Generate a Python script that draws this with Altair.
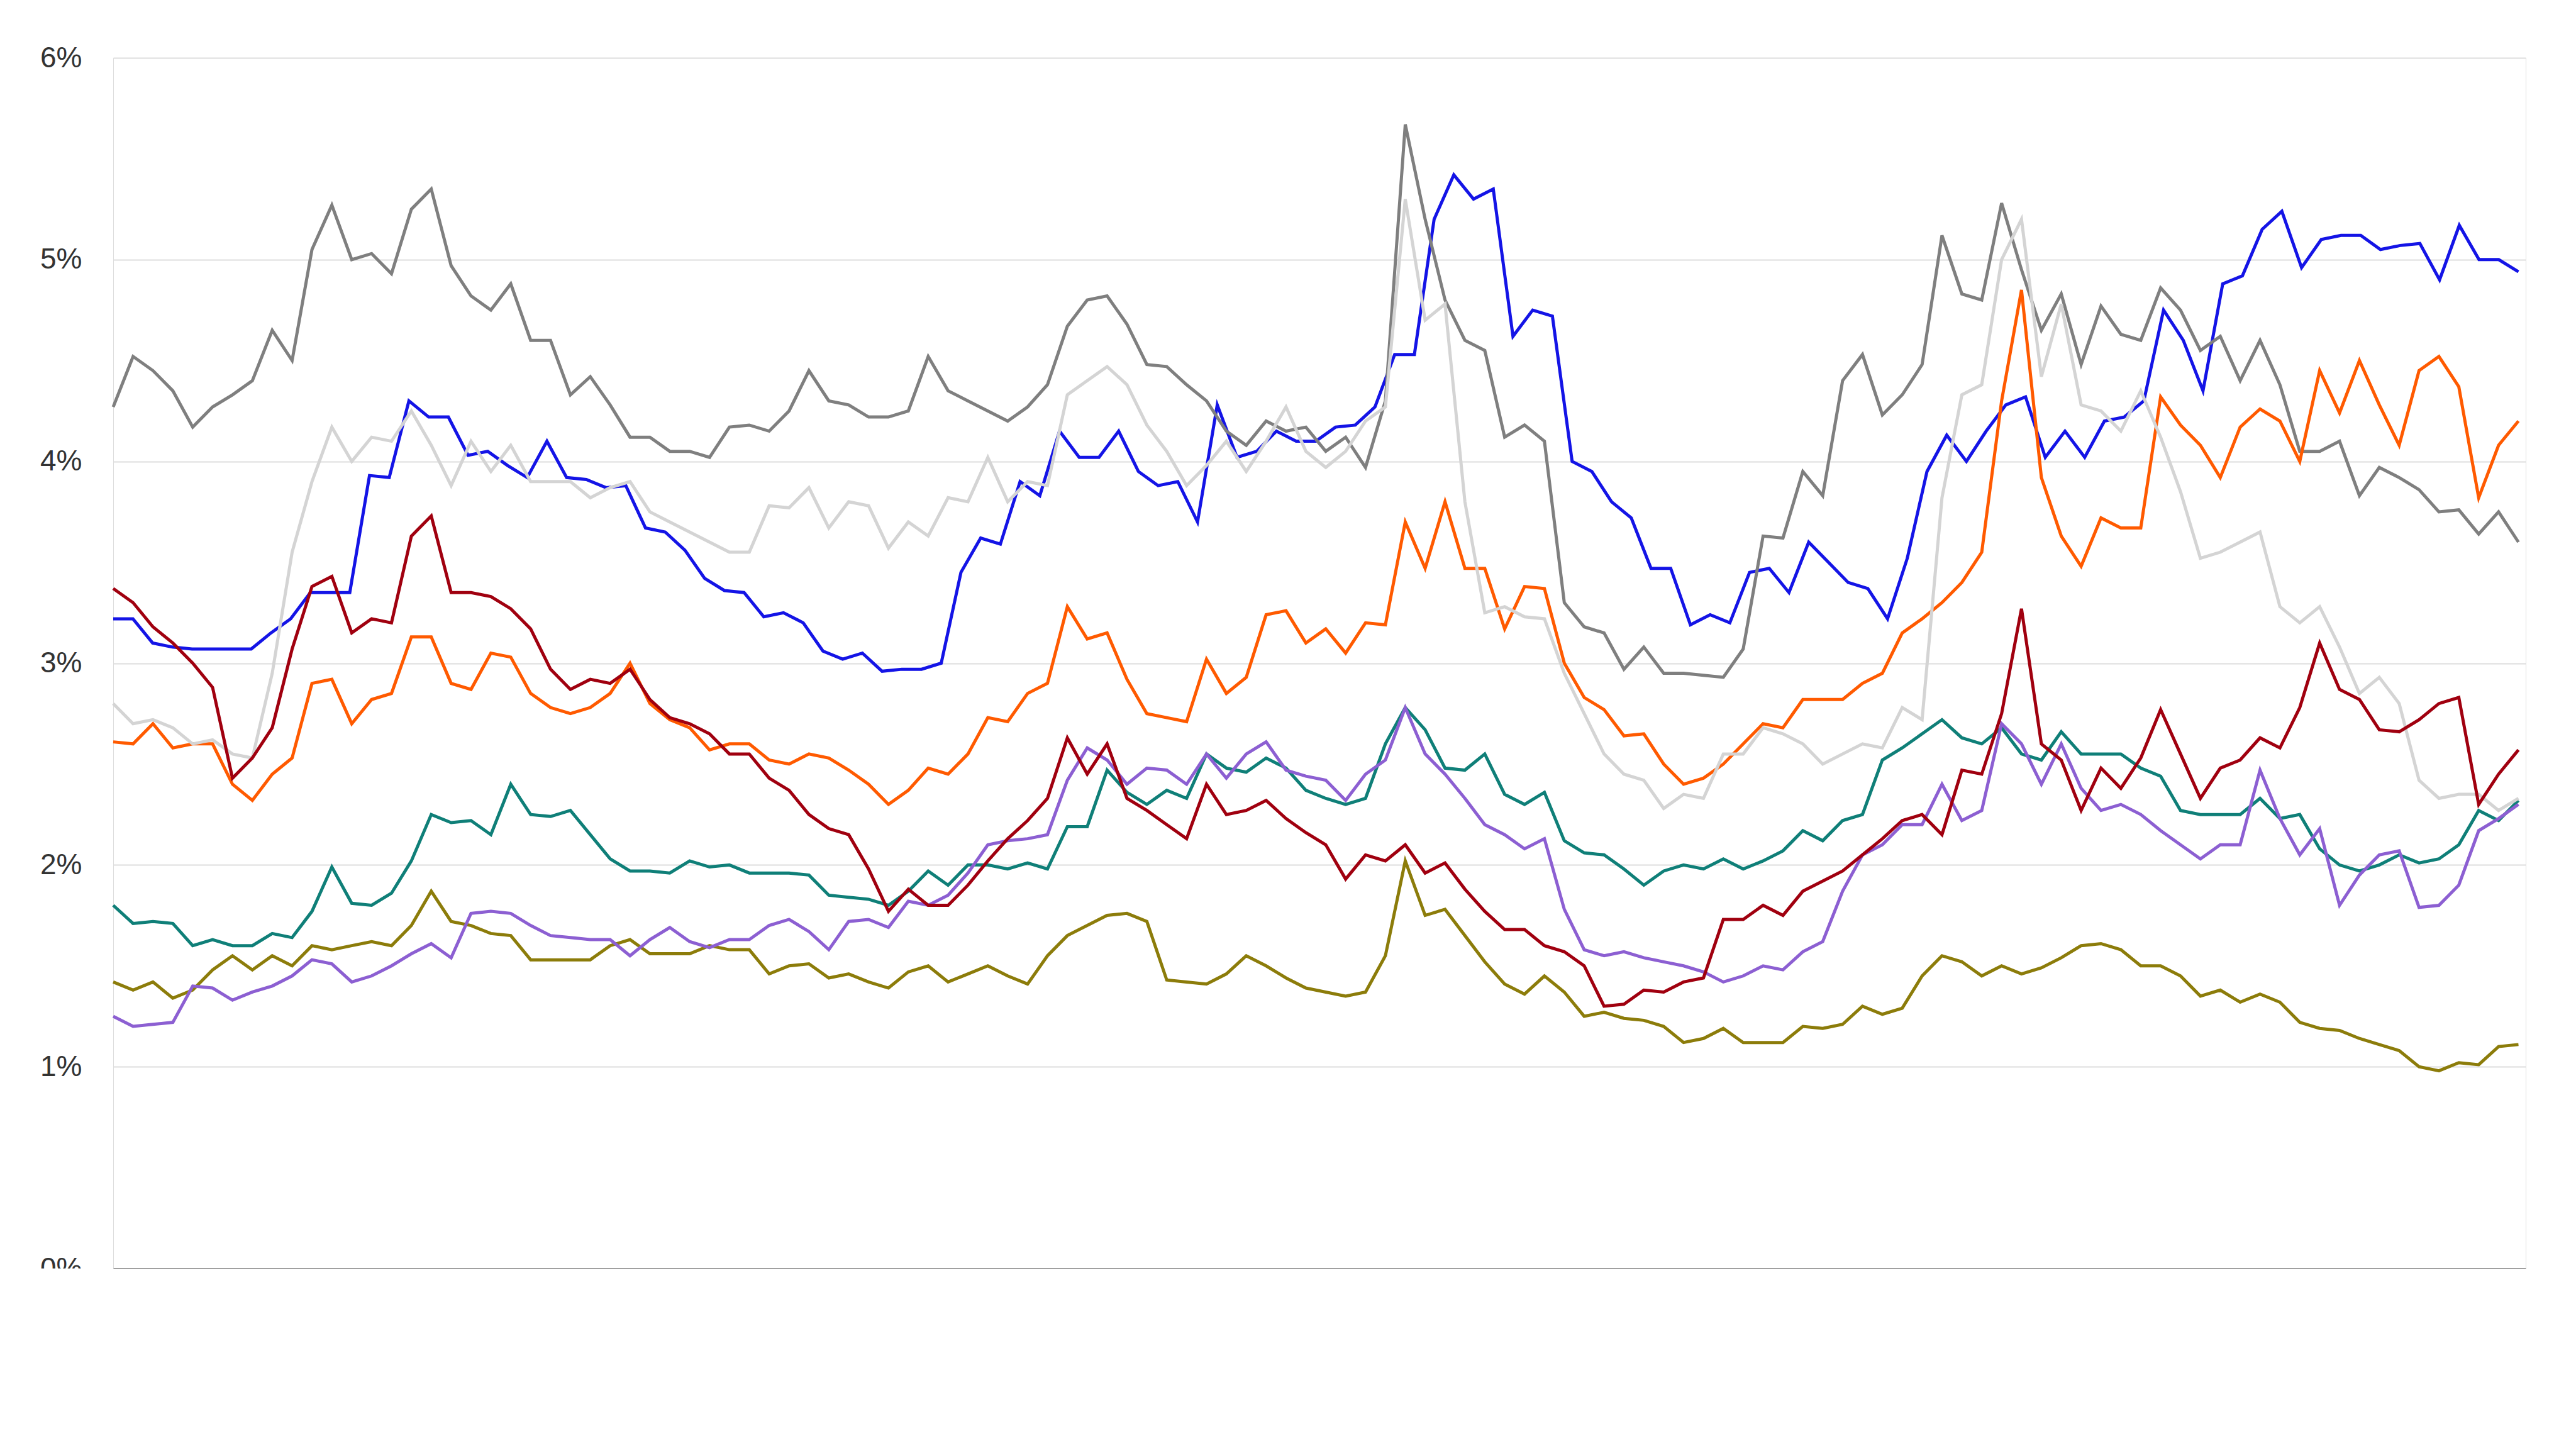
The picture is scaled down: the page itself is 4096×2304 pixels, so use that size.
import altair as alt
import pandas as pd

series_names = ["STI", "FTSE Australia Index", "FTSE Hong Kong Index", "FTSE Japan Index",
                "FTSE India Index", "FTSE Korea Index", "FTSE Taiwan Index", "FTSE China Index"]
colors = ["#1414e6", "#7f7f7f", "#ff5a00", "#0f7f78", "#8c7c0a", "#8c5fd2", "#d4d4d4", "#a0000f"]

sti = [3.22,3.22,3.1,3.08,3.07,3.07,3.07,3.07,3.15,3.22,3.35,3.35,3.35,3.93,3.92,4.3,4.22,4.22,4.03,4.05,3.98,3.92,4.1,3.92,3.91,3.87,3.88,3.67,3.65,3.56,3.42,3.36,3.35,3.23,3.25,3.2,3.06,3.02,3.05,2.96,2.97,2.97,3.0,3.45,3.62,3.59,3.9,3.83,4.15,4.02,4.02,4.15,3.95,3.88,3.9,3.7,4.28,4.02,4.05,4.15,4.1,4.1,4.17,4.18,4.27,4.53,4.53,5.2,5.42,5.3,5.35,4.62,4.75,4.72,4.0,3.95,3.8,3.72,3.47,3.47,3.19,3.24,3.2,3.45,3.47,3.35,3.6,3.5,3.4,3.37,3.22,3.52,3.95,4.13,4.0,4.15,4.28,4.32,4.02,4.15,4.02,4.2,4.22,4.3,4.75,4.6,4.35,4.88,4.92,5.15,5.24,4.96,5.1,5.12,5.12,5.05,5.07,5.08,4.9,5.17,5.0,5.0,4.94]
aus = [4.27,4.52,4.45,4.35,4.17,4.27,4.33,4.4,4.65,4.5,5.05,5.27,5.0,5.03,4.93,5.25,5.35,4.97,4.82,4.75,4.88,4.6,4.6,4.33,4.42,4.28,4.12,4.12,4.05,4.05,4.02,4.17,4.18,4.15,4.25,4.45,4.3,4.28,4.22,4.22,4.25,4.52,4.35,4.3,4.25,4.2,4.27,4.38,4.67,4.8,4.82,4.68,4.48,4.47,4.38,4.3,4.15,4.08,4.2,4.15,4.17,4.05,4.12,3.97,4.3,5.67,5.2,4.8,4.6,4.55,4.12,4.18,4.1,3.3,3.18,3.15,2.97,3.08,2.95,2.95,2.94,2.93,3.07,3.63,3.62,3.95,3.83,4.4,4.53,4.23,4.33,4.48,5.12,4.83,4.8,5.28,4.95,4.65,4.83,4.48,4.77,4.63,4.6,4.86,4.75,4.55,4.62,4.4,4.6,4.38,4.05,4.05,4.1,3.83,3.97,3.92,3.86,3.75,3.76,3.64,3.75,3.6]
hk = [2.61,2.6,2.7,2.58,2.6,2.6,2.4,2.32,2.45,2.53,2.9,2.92,2.7,2.82,2.85,3.13,3.13,2.9,2.87,3.05,3.03,2.85,2.78,2.75,2.78,2.85,3.0,2.8,2.72,2.68,2.57,2.6,2.6,2.52,2.5,2.55,2.53,2.47,2.4,2.3,2.37,2.48,2.45,2.55,2.73,2.71,2.85,2.9,3.28,3.12,3.15,2.92,2.75,2.73,2.71,3.02,2.85,2.93,3.24,3.26,3.1,3.17,3.05,3.2,3.19,3.7,3.47,3.8,3.47,3.47,3.17,3.38,3.37,3.0,2.83,2.77,2.64,2.65,2.5,2.4,2.43,2.5,2.6,2.7,2.68,2.82,2.82,2.82,2.9,2.95,3.15,3.22,3.3,3.4,3.55,4.3,4.85,3.92,3.63,3.48,3.72,3.67,3.67,4.32,4.18,4.08,3.92,4.17,4.26,4.2,4.0,4.45,4.24,4.5,4.28,4.08,4.45,4.52,4.37,3.82,4.08,4.2]
jpn = [1.8,1.71,1.72,1.71,1.6,1.63,1.6,1.6,1.66,1.64,1.77,1.99,1.81,1.8,1.86,2.02,2.25,2.21,2.22,2.15,2.4,2.25,2.24,2.27,2.15,2.03,1.97,1.97,1.96,2.02,1.99,2.0,1.96,1.96,1.96,1.95,1.85,1.84,1.83,1.8,1.87,1.97,1.9,2.0,2.0,1.98,2.01,1.98,2.19,2.19,2.47,2.36,2.3,2.37,2.33,2.55,2.48,2.46,2.53,2.48,2.37,2.33,2.3,2.33,2.6,2.78,2.67,2.48,2.47,2.55,2.35,2.3,2.36,2.12,2.06,2.05,1.98,1.9,1.97,2.0,1.98,2.03,1.98,2.02,2.07,2.17,2.12,2.22,2.25,2.52,2.58,2.65,2.72,2.63,2.6,2.68,2.55,2.52,2.66,2.55,2.55,2.55,2.48,2.44,2.27,2.25,2.25,2.25,2.33,2.23,2.25,2.08,2.0,1.97,2.0,2.05,2.01,2.03,2.1,2.27,2.22,2.32]
ind = [1.42,1.38,1.42,1.34,1.38,1.48,1.55,1.48,1.55,1.5,1.6,1.58,1.6,1.62,1.6,1.7,1.87,1.72,1.7,1.66,1.65,1.53,1.53,1.53,1.53,1.6,1.63,1.56,1.56,1.56,1.6,1.58,1.58,1.46,1.5,1.51,1.44,1.46,1.42,1.39,1.47,1.5,1.42,1.46,1.5,1.45,1.41,1.55,1.65,1.7,1.75,1.76,1.72,1.43,1.42,1.41,1.46,1.55,1.5,1.44,1.39,1.37,1.35,1.37,1.55,2.02,1.75,1.78,1.65,1.52,1.41,1.36,1.45,1.37,1.25,1.27,1.24,1.23,1.2,1.12,1.14,1.19,1.12,1.12,1.12,1.2,1.19,1.21,1.3,1.26,1.29,1.45,1.55,1.52,1.45,1.5,1.46,1.49,1.54,1.6,1.61,1.58,1.5,1.5,1.45,1.35,1.38,1.32,1.36,1.32,1.22,1.19,1.18,1.14,1.11,1.08,1.0,0.98,1.02,1.01,1.1,1.11]
kor = [1.25,1.2,1.21,1.22,1.4,1.39,1.33,1.37,1.4,1.45,1.53,1.51,1.42,1.45,1.5,1.56,1.61,1.54,1.76,1.77,1.76,1.7,1.65,1.64,1.63,1.63,1.55,1.63,1.69,1.62,1.59,1.63,1.63,1.7,1.73,1.67,1.58,1.72,1.73,1.69,1.82,1.8,1.85,1.96,2.1,2.12,2.13,2.15,2.42,2.58,2.52,2.4,2.48,2.47,2.4,2.55,2.43,2.55,2.61,2.47,2.44,2.42,2.32,2.45,2.52,2.78,2.55,2.45,2.33,2.2,2.15,2.08,2.13,1.78,1.58,1.55,1.57,1.54,1.52,1.5,1.47,1.42,1.45,1.5,1.48,1.57,1.62,1.87,2.05,2.1,2.2,2.2,2.4,2.22,2.27,2.7,2.6,2.4,2.6,2.38,2.27,2.3,2.25,2.17,2.1,2.03,2.1,2.1,2.47,2.23,2.05,2.18,1.8,1.95,2.05,2.07,1.79,1.8,1.9,2.17,2.23,2.3]
twn = [2.8,2.7,2.72,2.68,2.6,2.62,2.55,2.53,2.95,3.55,3.9,4.17,4.0,4.12,4.1,4.25,4.08,3.88,4.1,3.95,4.08,3.9,3.9,3.9,3.82,3.87,3.9,3.75,3.7,3.65,3.6,3.55,3.55,3.78,3.77,3.87,3.67,3.8,3.78,3.57,3.7,3.63,3.82,3.8,4.02,3.8,3.9,3.88,4.33,4.4,4.47,4.38,4.18,4.05,3.88,3.98,4.1,3.95,4.1,4.27,4.05,3.97,4.05,4.2,4.27,5.3,4.7,4.78,3.8,3.25,3.28,3.23,3.22,2.95,2.75,2.55,2.45,2.42,2.28,2.35,2.33,2.55,2.55,2.68,2.65,2.6,2.5,2.55,2.6,2.58,2.78,2.72,3.82,4.33,4.38,5.0,5.2,4.42,4.78,4.28,4.25,4.15,4.35,4.12,3.85,3.52,3.55,3.6,3.65,3.28,3.2,3.28,3.08,2.85,2.93,2.8,2.42,2.33,2.35,2.35,2.27,2.33]
chn = [3.37,3.3,3.18,3.1,3.0,2.88,2.43,2.53,2.68,3.07,3.38,3.43,3.15,3.22,3.2,3.63,3.73,3.35,3.35,3.33,3.27,3.17,2.97,2.87,2.92,2.9,2.97,2.82,2.73,2.7,2.65,2.55,2.55,2.43,2.37,2.25,2.18,2.15,1.98,1.77,1.88,1.8,1.8,1.9,2.02,2.13,2.22,2.33,2.63,2.45,2.6,2.33,2.27,2.2,2.13,2.4,2.25,2.27,2.32,2.23,2.16,2.1,1.93,2.05,2.02,2.1,1.96,2.01,1.88,1.77,1.68,1.68,1.6,1.57,1.5,1.3,1.31,1.38,1.37,1.42,1.44,1.73,1.73,1.8,1.75,1.87,1.92,1.97,2.05,2.13,2.22,2.25,2.15,2.47,2.45,2.75,3.27,2.6,2.52,2.27,2.48,2.38,2.53,2.77,2.55,2.33,2.48,2.52,2.63,2.58,2.78,3.1,2.87,2.82,2.67,2.66,2.72,2.8,2.83,2.3,2.45,2.57]

all_vals = [sti, aus, hk, jpn, ind, kor, twn, chn]
start = pd.Timestamp("2014-11-01")
end = pd.Timestamp("2024-11-01")
rows = []
for name, vals in zip(series_names, all_vals):
    n = len(vals)
    for i, v in enumerate(vals):
        d = start + (end - start) * (i / (n - 1))
        rows.append({"date": d, "series": name, "value": v / 100})
df = pd.DataFrame(rows)

tick_dates = [pd.Timestamp(f"{y}-11-01") for y in range(2014, 2025)]

chart = alt.Chart(df).mark_line(strokeWidth=5).encode(
    x=alt.X("date:T", title=None,
            scale=alt.Scale(domain=[start.isoformat(), pd.Timestamp("2024-11-12").isoformat()]),
            axis=alt.Axis(values=[t.isoformat() for t in tick_dates], format="%b-%y", grid=False,
                          labelFontSize=46, labelColor="#333", domainColor="#444", domainWidth=3,
                          tickColor="#444", tickWidth=3, tickSize=14, labelPadding=10,
                          labelFlush=True)),
    y=alt.Y("value:Q", title=None, scale=alt.Scale(domain=[0, 0.06], nice=False),
            axis=alt.Axis(format=".0%", values=[0, 0.01, 0.02, 0.03, 0.04, 0.05, 0.06],
                          labelFontSize=46, labelColor="#333", domain=False, ticks=False,
                          gridColor="#dddddd", gridWidth=2, labelPadding=50)),
    color=alt.Color("series:N", sort=series_names,
                    scale=alt.Scale(domain=series_names, range=colors),
                    legend=alt.Legend(title=None, orient="none", legendX=110, legendY=2062,
                                      columns=4, symbolType="stroke", gridAlign="all",
                                      symbolStrokeWidth=5, symbolSize=8000, labelFontSize=46,
                                      labelColor="#333", columnPadding=290, rowPadding=38,
                                      labelOffset=2, labelLimit=1000, direction="horizontal")),
    order=alt.Order("date:T"),
).properties(
    width=3836, height=1925,
    autosize=alt.AutoSizeParams(type="none"),
    padding={"left": 172, "top": 84, "right": 60, "bottom": 0},
).configure_view(stroke=None).configure(font="Arial, Liberation Sans")

chart.save("out.html", embed_options={"renderer": "svg", "actions": False})
